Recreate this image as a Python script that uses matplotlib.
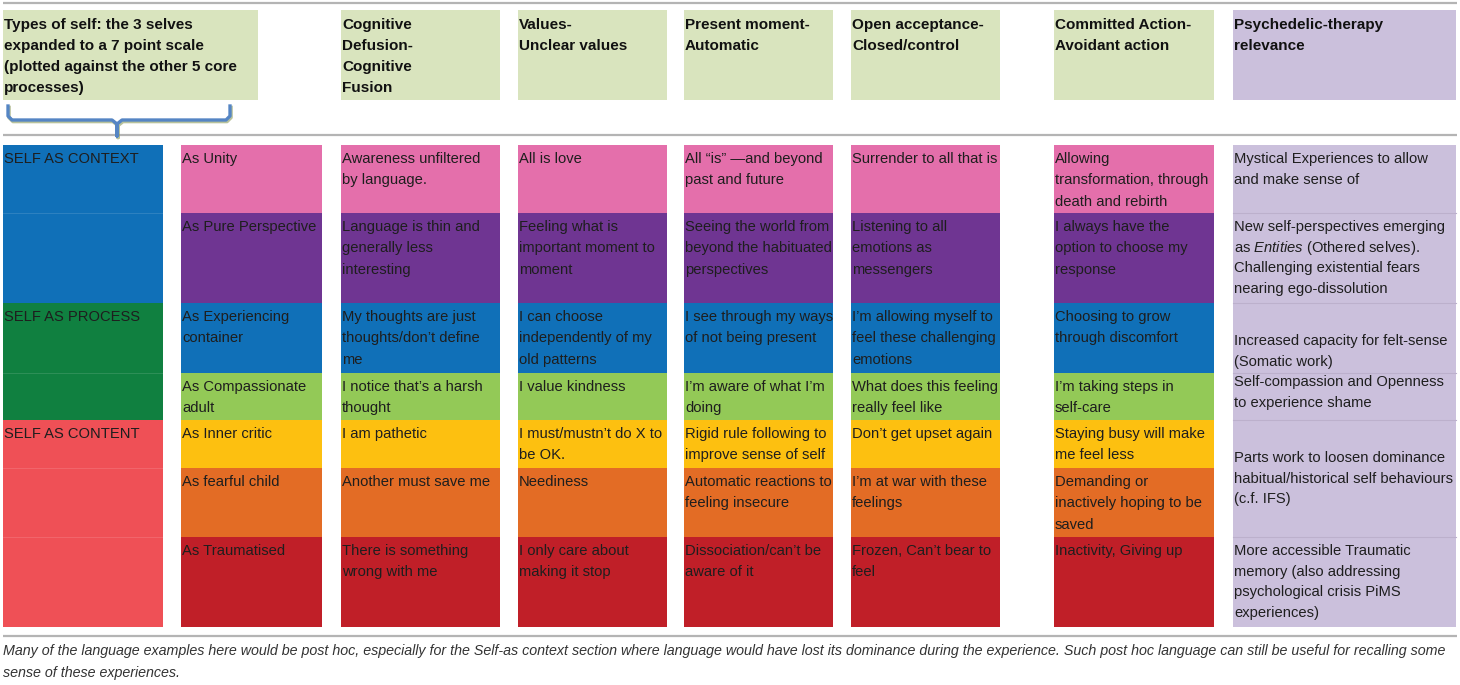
import matplotlib
matplotlib.use("Agg")
from matplotlib import pyplot as plt
from matplotlib.patches import Rectangle

plt.rcParams['font.family'] = ['Liberation Sans', 'DejaVu Sans']
plt.rcParams['mathtext.fontset'] = 'custom'
plt.rcParams['mathtext.rm'] = 'Liberation Sans'
plt.rcParams['mathtext.it'] = 'Liberation Sans:italic'

# ---- table content ----
headers = ["Types of self: the 3 selves\nexpanded to a 7 point scale\n(plotted against the other 5 core\nprocesses)",
           "",
           "Cognitive\nDefusion-\nCognitive\nFusion",
           "Values-\nUnclear values",
           "Present moment-\nAutomatic",
           "Open acceptance-\nClosed/control",
           "Committed Action-\nAvoidant action",
           "Psychedelic-therapy\nrelevance"]

sections = ["SELF AS CONTEXT", "SELF AS PROCESS", "SELF AS CONTENT"]
section_rows = [(0, 2), (2, 4), (4, 7)]

selves = ["As Unity", "As Pure Perspective", "As Experiencing\ncontainer",
          "As Compassionate\nadult", "As Inner critic", "As fearful child", "As Traumatised"]

defusion = ["Awareness unfiltered\nby language.", "Language is thin and\ngenerally less\ninteresting",
            "My thoughts are just\nthoughts/don’t define\nme", "I notice that’s a harsh\nthought",
            "I am pathetic", "Another must save me", "There is something\nwrong with me"]

values = ["All is love", "Feeling what is\nimportant moment to\nmoment",
          "I can choose\nindependently of my\nold patterns", "I value kindness",
          "I must/mustn’t do X to\nbe OK.", "Neediness", "I only care about\nmaking it stop"]

present = ["All “is” —and beyond\npast and future", "Seeing the world from\nbeyond the habituated\nperspectives",
           "I see through my ways\nof not being present", "I’m aware of what I’m\ndoing",
           "Rigid rule following to\nimprove sense of self", "Automatic reactions to\nfeeling insecure",
           "Dissociation/can’t be\naware of it"]

acceptance = ["Surrender to all that is", "Listening to all\nemotions as\nmessengers",
              "I’m allowing myself to\nfeel these challenging\nemotions", "What does this feeling\nreally feel like",
              "Don’t get upset again", "I’m at war with these\nfeelings", "Frozen, Can’t bear to\nfeel"]

action = ["Allowing\ntransformation, through\ndeath and rebirth", "I always have the\noption to choose my\nresponse",
          "Choosing to grow\nthrough discomfort", "I’m taking steps in\nself-care",
          "Staying busy will make\nme feel less", "Demanding or\ninactively hoping to be\nsaved",
          "Inactivity, Giving up"]

relevance = ["Mystical Experiences to allow\nand make sense of",
             "New self-perspectives emerging\nas $Entities$ (Othered selves).\nChallenging existential fears\nnearing ego-dissolution",
             "Increased capacity for felt-sense\n(Somatic work)",
             "Self-compassion and Openness\nto experience shame",
             "Parts work to loosen dominance\nhabitual/historical self behaviours\n(c.f. IFS)",
             "More accessible Traumatic\nmemory (also addressing\npsychological crisis PiMS\nexperiences)"]
relevance_rows = [(0, 1), (1, 2), (2, 3), (3, 4), (4, 6), (6, 7)]

caption = ("Many of the language examples here would be post hoc, especially for the Self-as context section where "
           "language would have lost its dominance during the experience. Such post hoc language can still be useful for recalling some\n"
           "sense of these experiences.")

# ---- colours / layout ----
row_colors = ["#e46fab", "#6f3592", "#1070b8", "#93c957", "#fdc010", "#e36c25", "#c01f28"]
section_colors = ["#1070b8", "#108040", "#ef5056"]
header_green = "#d9e4be"
header_purple = "#cbc0dc"
text_col = "#1e1e1e"

W, H = 1460, 685
col_x = [(3, 163), (181, 322), (341, 500), (518, 667), (684, 833), (851, 1000), (1054, 1214), (1233, 1456)]
row_y = [145, 213, 303, 373, 420, 468, 537, 627]
rel_offset = [18, 18, 42, 13, 42, 18]
line_h = 21.3

fig = plt.figure(figsize=(W / 100, H / 100), dpi=100)
ax = fig.add_axes([0, 0, 1, 1])
ax.set_xlim(0, W)
ax.set_ylim(H, 0)
ax.axis("off")

fs = 10.6


def lines(x, y, txt, step=line_h, **kw):
    # one text per line, on fixed baselines
    out = []
    for k, s in enumerate(txt.split("\n")):
        out.append(ax.text(x, y + k * step, s, va="baseline", ha="left", **kw))
    return out


# rules
for y in [3, 135, 636]:
    ax.plot([3, 1457], [y, y], color="#b4b4b4", lw=1.6, solid_capstyle="butt")

# header boxes
for i, h in enumerate(headers):
    if not h:
        continue
    x0, x1 = col_x[i]
    if i == 0:
        x1 = 258
    fc = header_purple if i == 7 else header_green
    ax.add_patch(Rectangle((x0, 10), x1 - x0, 90, fc=fc, ec="none"))
    lines(x0 + 1, 28.5, h, fontsize=11, fontweight="bold", color="#111111")

# brace
bx = [8, 8, 12, 112, 117, 117, 117, 122, 226, 230, 230]
by = [106, 116, 120, 120, 124, 136, 124, 120, 120, 116, 106]
ax.plot([x + 1 for x in bx], [y + 1.5 for y in by], color="#8a9a5a", lw=2.6, alpha=0.6,
        solid_joinstyle="round")
ax.plot(bx, by, color="#5585c4", lw=2.4, solid_joinstyle="round")

# section column
for s, (r0, r1), c in zip(sections, section_rows, section_colors):
    x0, x1 = col_x[0]
    ax.add_patch(Rectangle((x0, row_y[r0]), x1 - x0, row_y[r1] - row_y[r0], fc=c, ec="none"))
    for r in range(r0 + 1, r1):
        ax.plot([x0, x1], [row_y[r], row_y[r]], color="white", lw=0.6, alpha=0.15)
    lines(x0 + 1, row_y[r0] + 18, s, fontsize=fs, color=text_col)

# coloured columns
columns = [selves, defusion, values, present, acceptance, action]
for ci, col in enumerate(columns):
    x0, x1 = col_x[ci + 1]
    for r, txt in enumerate(col):
        ax.add_patch(Rectangle((x0, row_y[r]), x1 - x0, row_y[r + 1] - row_y[r],
                               fc=row_colors[r], ec="none"))
        lines(x0 + 1, row_y[r] + 18, txt, fontsize=fs, color=text_col)

# relevance column
x0, x1 = col_x[7]
for (r0, r1), txt, off in zip(relevance_rows, relevance, rel_offset):
    ax.add_patch(Rectangle((x0, row_y[r0]), x1 - x0, row_y[r1] - row_y[r0],
                           fc=header_purple, ec="none"))
    if r0 > 0:
        ax.plot([x0, x1], [row_y[r0], row_y[r0]], color="#bcb0cc", lw=0.8)
    lines(x0 + 1, row_y[r0] + off, txt, step=20.7, fontsize=fs, color=text_col)

cap = lines(3, 655.5, caption, step=21, fontsize=10.2, style="italic", color="#333333")
# fit the first caption line to the table width
r = fig.canvas.get_renderer()
wid = cap[0].get_window_extent(r).width
for t in cap:
    t.set_fontsize(10.2 * 1450 / wid)

fig.savefig("out.png", dpi=100)
